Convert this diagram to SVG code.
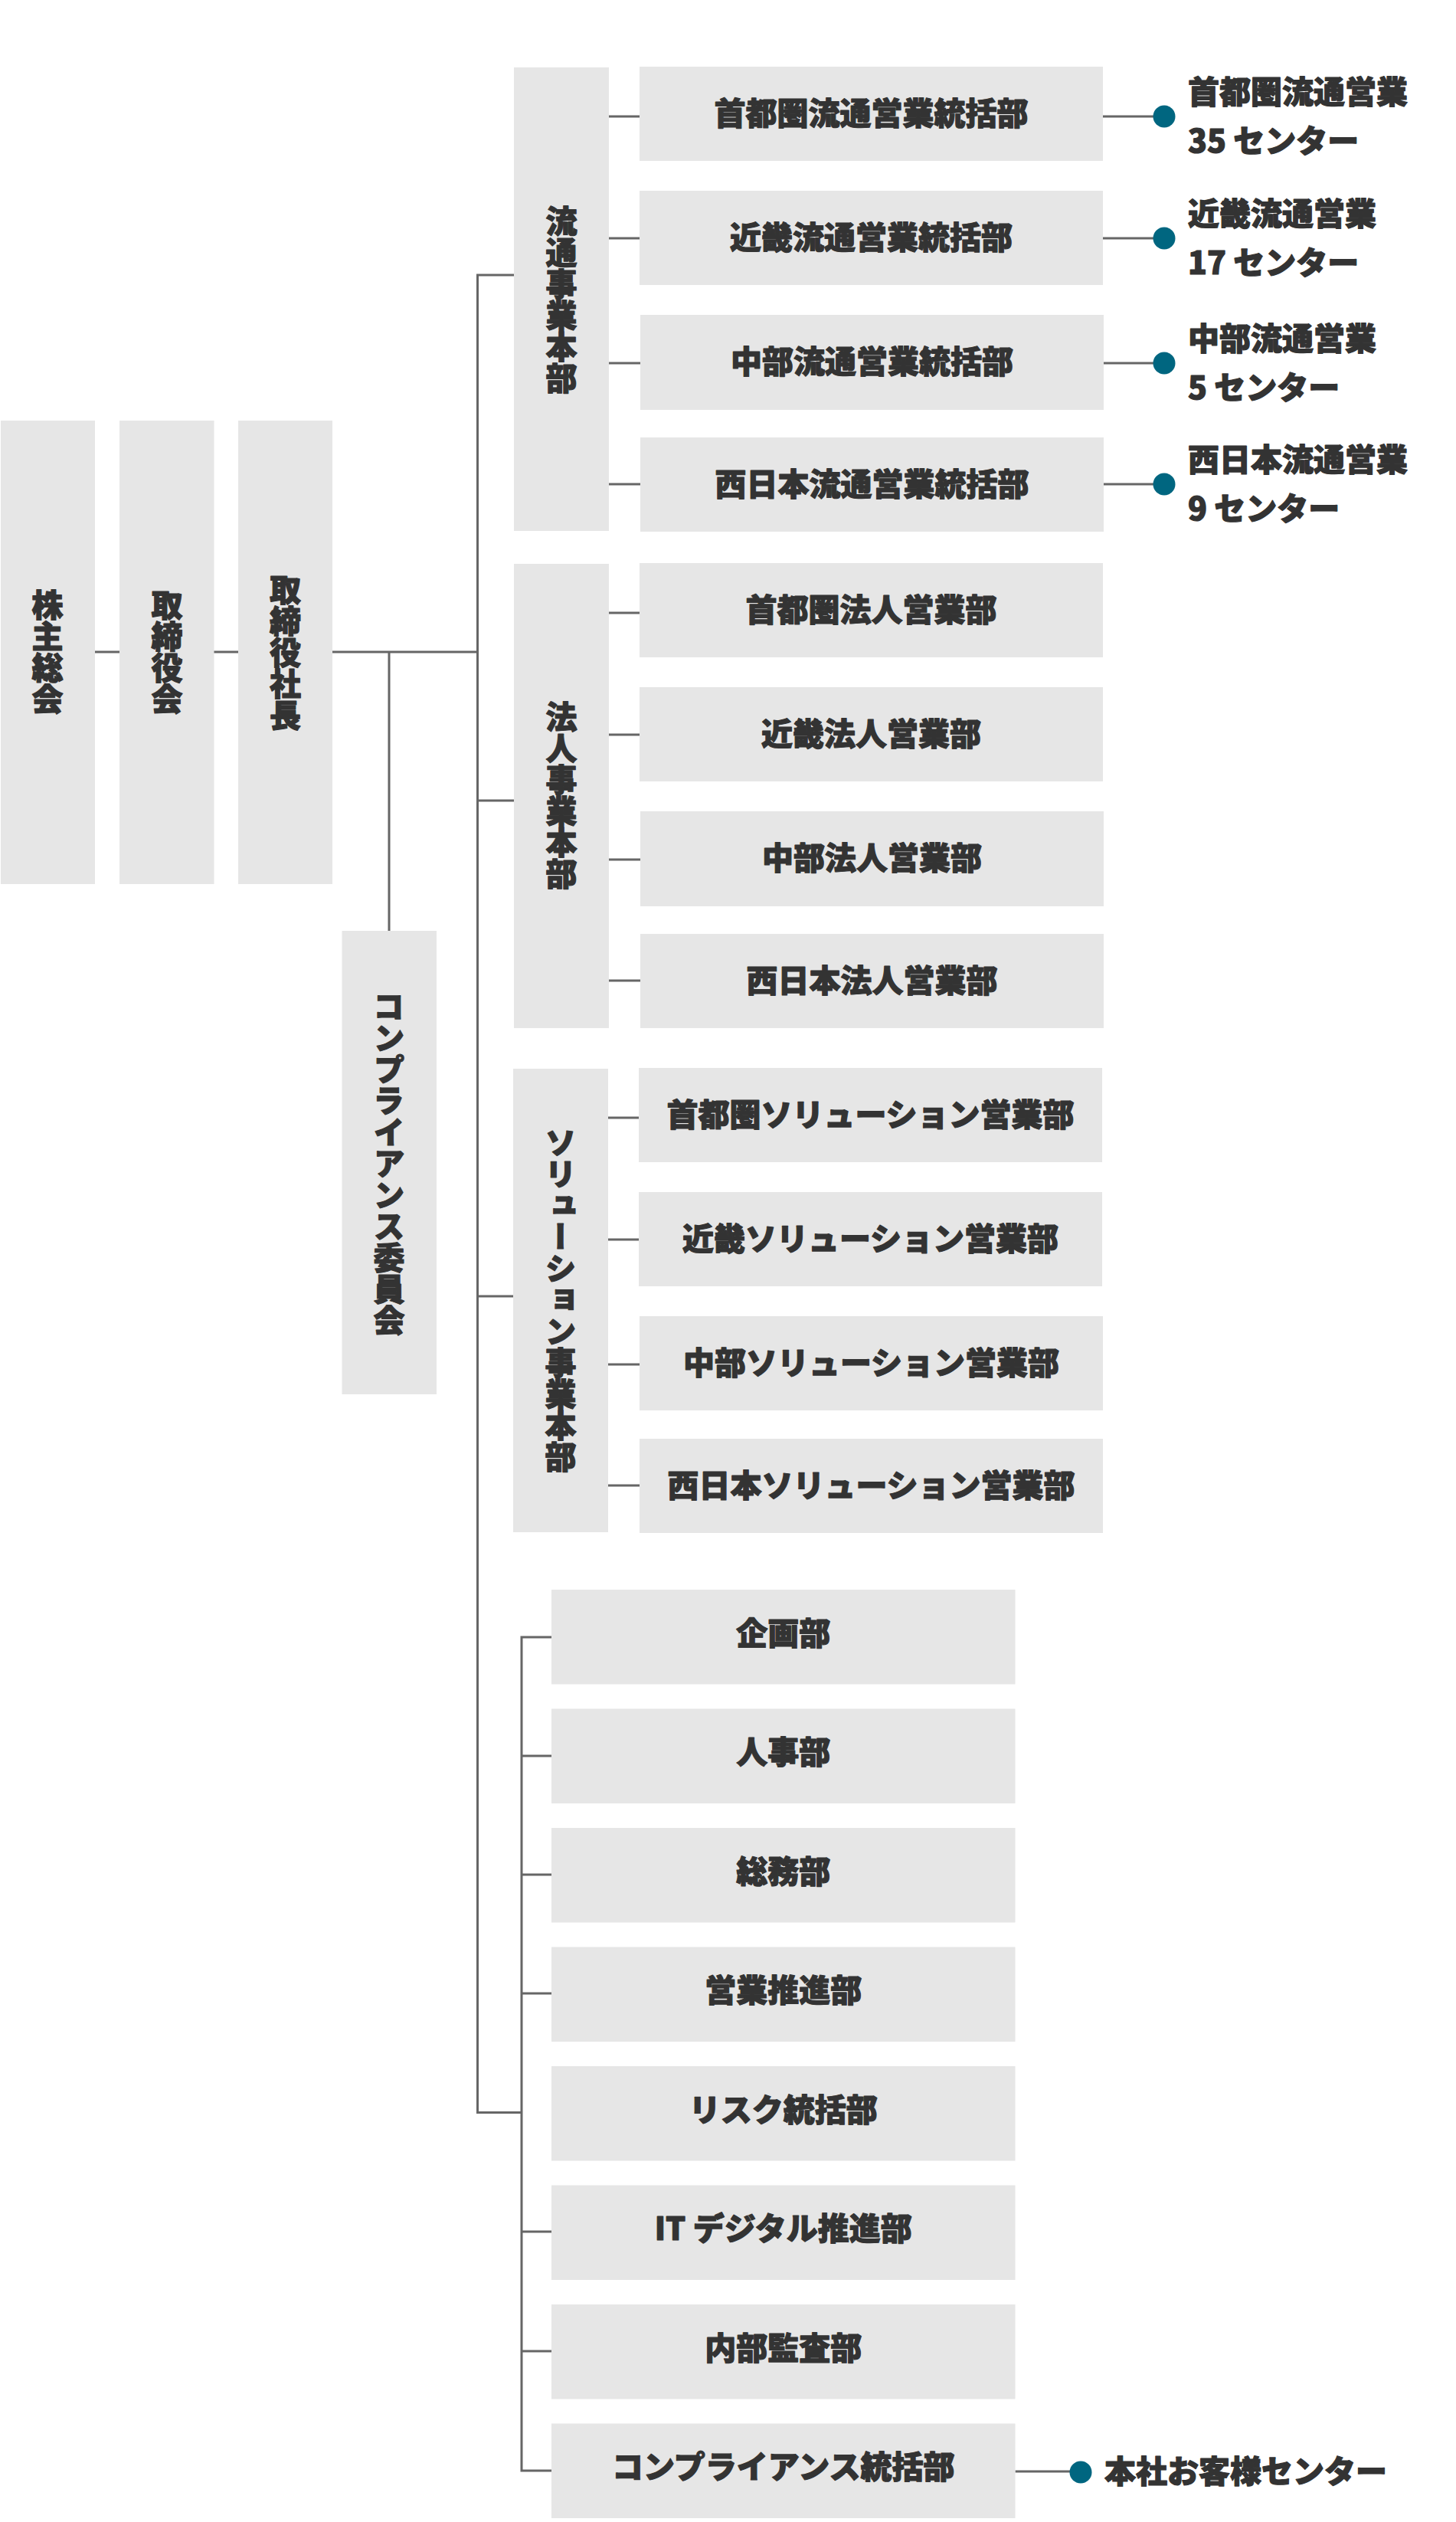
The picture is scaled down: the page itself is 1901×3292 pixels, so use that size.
<svg xmlns="http://www.w3.org/2000/svg" width="1901" height="3292" viewBox="0 0 1901 3292">
<style>
.box{fill:#e6e6e6;}
.t{font-family:"Noto Sans CJK JP","Noto Sans",sans-serif;font-weight:900;font-size:41px;fill:#333;stroke:#333;stroke-width:1.2px;stroke-linejoin:round;}
.c{text-anchor:middle;dominant-baseline:central;}
.v{writing-mode:vertical-rl;text-anchor:middle;}
.ln{stroke:#666;stroke-width:3;fill:none;}
.dot{fill:#006680;}
</style>
<rect width="1901" height="3292" fill="#fff"/>
<g id="connectors">
<path class="ln" d="M124 851H156M279 851H311M434 851H623.5M508 851V1215"/>
<path class="ln" d="M671 359H623.5V2757.5H681M623.5 1045H671M623.5 1692H670"/>
<path class="ln" d="M795 152H835M795 311H835M795 474H836M795 632H836"/>
<path class="ln" d="M795 800H835M795 959H835M795 1122H836M795 1280H836"/>
<path class="ln" d="M794 1459H834M794 1618H834M794 1781H835M794 1939H835"/>
<path class="ln" d="M720 2137H681V3225H720M681 2292H720M681 2447H720M681 2602H720M681 2913H720M681 3069H720"/>
<path class="ln" d="M1440 152H1520M1440 311H1520M1441 474H1520M1441 632H1520M1325.5 3226H1411"/>
</g>
<g id="n-kabunushi"><rect class="box" x="1" y="549" width="123" height="605"/><text class="t v" x="62" y="851">株主総会</text></g>
<g id="n-torishimariyakukai"><rect class="box" x="156" y="549" width="123.5" height="605"/><text class="t v" x="218" y="851">取締役会</text></g>
<g id="n-shacho"><rect class="box" x="311" y="549" width="123" height="605"/><text class="t v" x="372.5" y="851">取締役社長</text></g>
<g id="n-compliance-iinkai"><rect class="box" x="446.5" y="1215" width="123.5" height="605"/><text class="t v" x="508" y="1518">コンプライアンス委員会</text></g>

<g id="n-ryutsu-honbu"><rect class="box" x="671" y="88" width="124" height="605"/><text class="t v" x="733" y="391">流通事業本部</text></g>
<g id="n-hojin-honbu"><rect class="box" x="671" y="736" width="124" height="606"/><text class="t v" x="733" y="1038">法人事業本部</text></g>
<g id="n-solution-honbu"><rect class="box" x="670" y="1395" width="124" height="605"/><text class="t v" x="732" y="1696">ソリューション事業本部</text></g>

<g id="n-r1"><rect class="box" x="835" y="87" width="605" height="123"/><text class="t c" x="1137.5" y="144.5">首都圏流通営業統括部</text></g>
<g id="n-r2"><rect class="box" x="835" y="249" width="605" height="123"/><text class="t c" x="1137.5" y="306.5">近畿流通営業統括部</text></g>
<g id="n-r3"><rect class="box" x="836" y="411" width="605" height="124"/><text class="t c" x="1138.5" y="469">中部流通営業統括部</text></g>
<g id="n-r4"><rect class="box" x="836" y="571" width="605" height="123"/><text class="t c" x="1138.5" y="628.5">西日本流通営業統括部</text></g>

<g id="n-h1"><rect class="box" x="835" y="735" width="605" height="123"/><text class="t c" x="1137.5" y="792.5">首都圏法人営業部</text></g>
<g id="n-h2"><rect class="box" x="835" y="897" width="605" height="123"/><text class="t c" x="1137.5" y="954.5">近畿法人営業部</text></g>
<g id="n-h3"><rect class="box" x="836" y="1059" width="605" height="124"/><text class="t c" x="1138.5" y="1117">中部法人営業部</text></g>
<g id="n-h4"><rect class="box" x="836" y="1219" width="605" height="123"/><text class="t c" x="1138.5" y="1276.5">西日本法人営業部</text></g>

<g id="n-s1"><rect class="box" x="834" y="1394" width="605" height="123"/><text class="t c" x="1136.5" y="1451.5">首都圏ソリューション営業部</text></g>
<g id="n-s2"><rect class="box" x="834" y="1556" width="605" height="123"/><text class="t c" x="1136.5" y="1613.5">近畿ソリューション営業部</text></g>
<g id="n-s3"><rect class="box" x="835" y="1718" width="605" height="123"/><text class="t c" x="1137.5" y="1775.5">中部ソリューション営業部</text></g>
<g id="n-s4"><rect class="box" x="835" y="1878" width="605" height="123"/><text class="t c" x="1137.5" y="1935.5">西日本ソリューション営業部</text></g>

<g id="n-kikaku"><rect class="box" x="720" y="2075" width="605.5" height="123.5"/><text class="t c" x="1022.75" y="2128.5">企画部</text></g>
<g id="n-jinji"><rect class="box" x="720" y="2230.5" width="605.5" height="123.5"/><text class="t c" x="1022.75" y="2284">人事部</text></g>
<g id="n-somu"><rect class="box" x="720" y="2386" width="605.5" height="123.5"/><text class="t c" x="1022.75" y="2439.5">総務部</text></g>
<g id="n-eigyosuishin"><rect class="box" x="720" y="2541.5" width="605.5" height="123.5"/><text class="t c" x="1022.75" y="2595">営業推進部</text></g>
<g id="n-risk"><rect class="box" x="720" y="2697" width="605.5" height="123.5"/><text class="t c" x="1022.75" y="2750.5">リスク統括部</text></g>
<g id="n-it"><rect class="box" x="720" y="2852.5" width="605.5" height="123.5"/><text class="t c" x="1022.75" y="2906">IT デジタル推進部</text></g>
<g id="n-naibukansa"><rect class="box" x="720" y="3008" width="605.5" height="123.5"/><text class="t c" x="1022.75" y="3061.5">内部監査部</text></g>
<g id="n-compliance-tokatsu"><rect class="box" x="720" y="3163.5" width="605.5" height="123.5"/><text class="t c" x="1022.75" y="3217">コンプライアンス統括部</text></g>

<g id="n-c1"><circle class="dot" cx="1520" cy="152" r="14.5"/><text class="t" x="1551" y="135">首都圏流通営業</text><text class="t" x="1551" y="199">35 センター</text></g>
<g id="n-c2"><circle class="dot" cx="1520" cy="311" r="14.5"/><text class="t" x="1551" y="294">近畿流通営業</text><text class="t" x="1551" y="358">17 センター</text></g>
<g id="n-c3"><circle class="dot" cx="1520" cy="474" r="14.5"/><text class="t" x="1551" y="457">中部流通営業</text><text class="t" x="1551" y="521">5 センター</text></g>
<g id="n-c4"><circle class="dot" cx="1520" cy="632" r="14.5"/><text class="t" x="1551" y="615">西日本流通営業</text><text class="t" x="1551" y="679">9 センター</text></g>
<g id="n-c5"><circle class="dot" cx="1411" cy="3227" r="14.5"/><text class="t" x="1442" y="3241">本社お客様センター</text></g>
</svg>
